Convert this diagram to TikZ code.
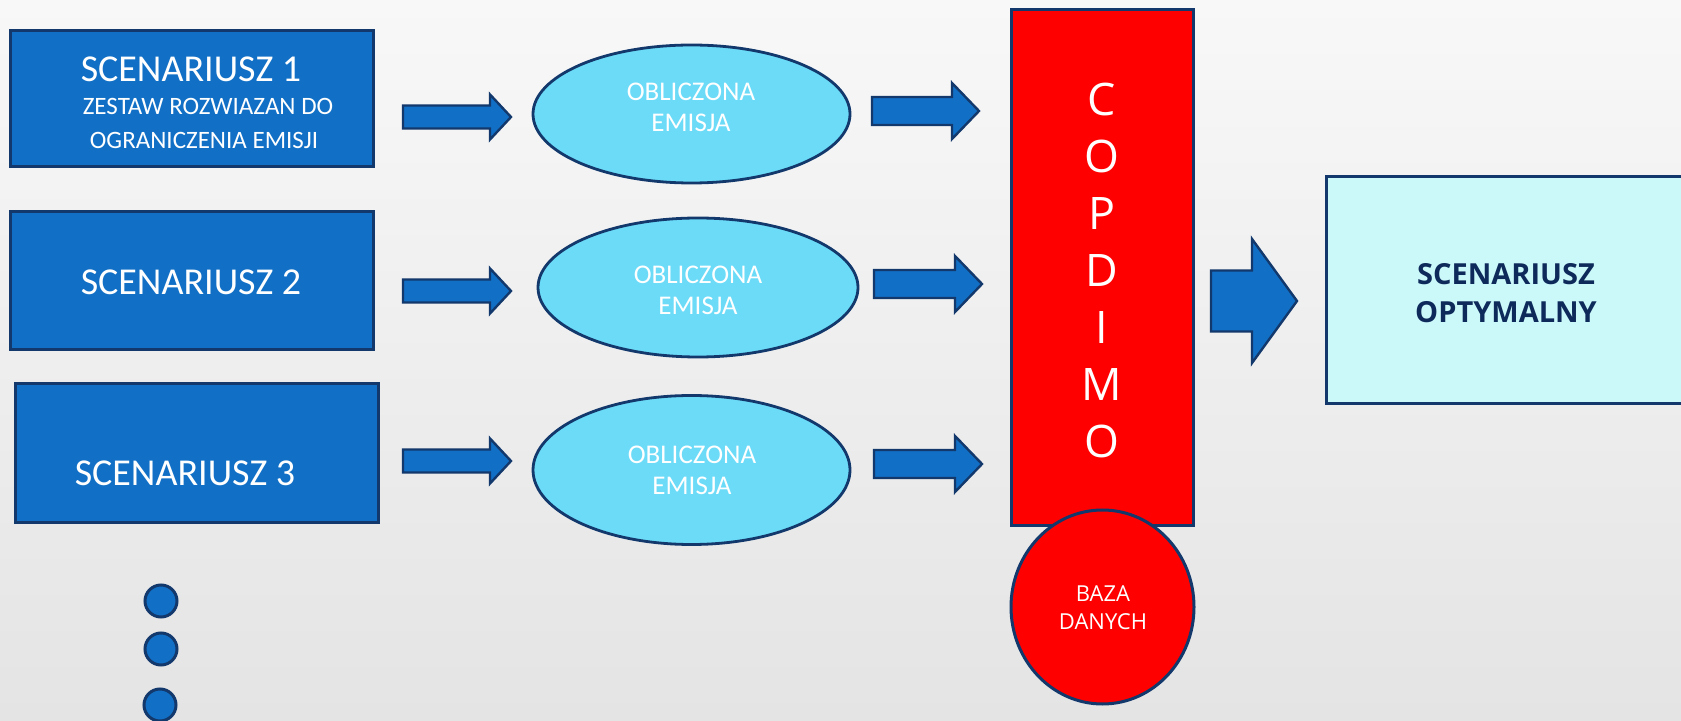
\documentclass[tikz,border=0pt]{standalone}
\usepackage{fontspec}
\setmainfont{Open Sans}
\newfontfamily\carl{Carlito}
\usetikzlibrary{shapes.geometric}
\definecolor{bgtop}{HTML}{F8F8F8}
\definecolor{bgbot}{HTML}{E4E4E4}
\definecolor{boxblue}{HTML}{1170C6}
\definecolor{navy}{HTML}{12386C}
\definecolor{ellfill}{HTML}{6BDBF8}
\definecolor{optfill}{HTML}{CBF9FA}
\definecolor{opttext}{HTML}{0E2A5A}
\newcommand\blockarr[6]{%
 \draw[arrowst] (#1,#4-#5) -- (#2,#4-#5) -- (#2,#4-#6) -- (#3,#4) -- (#2,#4+#6) -- (#2,#4+#5) -- (#1,#4+#5) -- cycle;}
\begin{document}
\begin{tikzpicture}[x=0.5pt,y=-0.5pt,
  scen/.style={rectangle, draw=navy, line width=1.5pt, fill=boxblue, minimum width=181.5pt, minimum height=#1, inner sep=0pt},
  emis/.style={ellipse, draw=navy, line width=1.4pt, fill=ellfill, inner sep=0pt},
  wtxt/.style={text=white, inner sep=0pt, align=center},
  arrowst/.style={draw=navy, line width=1.2pt, fill=boxblue, line join=miter},
  dot/.style={circle, draw=navy, line width=1.5pt, fill=boxblue, minimum size=16pt, inner sep=0pt}
]
\clip (0,0) rectangle (1681,721);
\fill[top color=bgtop, bottom color=bgbot] (0,0) rectangle (1681,721);

% scenario boxes
\node[scen=68pt] (s1) at (191.5,99) {};
\node[scen=69pt] (s2) at (191.5,281) {};
\node[scen=69pt] (s3) at (196.5,453) {};
\node[wtxt, font=\carl\fontsize{19}{22}\selectfont] (s1a) at (191,69) {SCENARIUSZ 1};
\node[wtxt, font=\carl\fontsize{12.5}{16}\selectfont] (s1b) at (208,106) {ZESTAW ROZWIAZAN DO};
\node[wtxt, font=\carl\fontsize{12.5}{16}\selectfont] (s1c) at (204,140) {OGRANICZENIA EMISJI};
\node[wtxt, font=\carl\fontsize{19}{22}\selectfont] (s2a) at (191,282) {SCENARIUSZ 2};
\node[wtxt, font=\carl\fontsize{19}{22}\selectfont] (s3a) at (185,473) {SCENARIUSZ 3};

% dots
\node[dot] (d1) at (161,601) {};
\node[dot] (d2) at (161,649) {};
\node[dot] (d3) at (160,705) {};

% ellipses
\node[emis, minimum width=158.5pt, minimum height=69pt] (e1) at (691.5,114) {};
\node[emis, minimum width=160pt, minimum height=69.5pt] (e2) at (698,287.5) {};
\node[emis, minimum width=158.5pt, minimum height=74.5pt] (e3) at (691.5,470) {};
\node[wtxt, font=\carl\fontsize{13.5}{15.5}\selectfont] (e1t) at (691,107.5) {OBLICZONA\\EMISJA};
\node[wtxt, font=\carl\fontsize{13.5}{15.5}\selectfont] (e2t) at (698,290) {OBLICZONA\\EMISJA};
\node[wtxt, font=\carl\fontsize{13.5}{15.5}\selectfont] (e3t) at (692,470.5) {OBLICZONA\\EMISJA};

% block arrows
\blockarr{403}{490}{511}{117}{11.5}{22.5}
\blockarr{403}{490}{511}{291}{11.5}{22.5}
\blockarr{403}{490}{511}{461}{11.5}{22.5}
\blockarr{872}{952}{979}{111}{14}{28}
\blockarr{874}{955}{982}{284}{14}{28}
\blockarr{874}{955}{982}{464}{14}{28}
\blockarr{1211}{1252}{1297}{301}{30.5}{62}

% COPDIMO
\node[rectangle, draw=navy, line width=1.5pt, fill=red, minimum width=91pt, minimum height=257.5pt, inner sep=0pt] (cop) at (1102,267.5) {};
\node[wtxt, font=\fontsize{22.4}{28.5}\selectfont] (copt) at (1102,270) {C\\O\\P\\D\\I\\M\\O};
\node[ellipse, draw=navy, line width=1.5pt, fill=red, minimum width=91.5pt, minimum height=97pt, inner sep=0pt] (baza) at (1102.5,607) {};
\node[wtxt, font=\fontsize{11}{14}\selectfont] (bazat) at (1103,608) {BAZA\\DANYCH};

% optimal scenario
\node[rectangle, draw=navy, line width=1.5pt, fill=optfill, minimum width=187pt, minimum height=113.5pt, inner sep=0pt] (opt) at (1513,290.5) {};
\node[text=opttext, inner sep=0pt, align=center, font=\bfseries\fontsize{14.5}{19}\selectfont] (optt) at (1506,293) {SCENARIUSZ\\OPTYMALNY};
\end{tikzpicture}
\end{document}
